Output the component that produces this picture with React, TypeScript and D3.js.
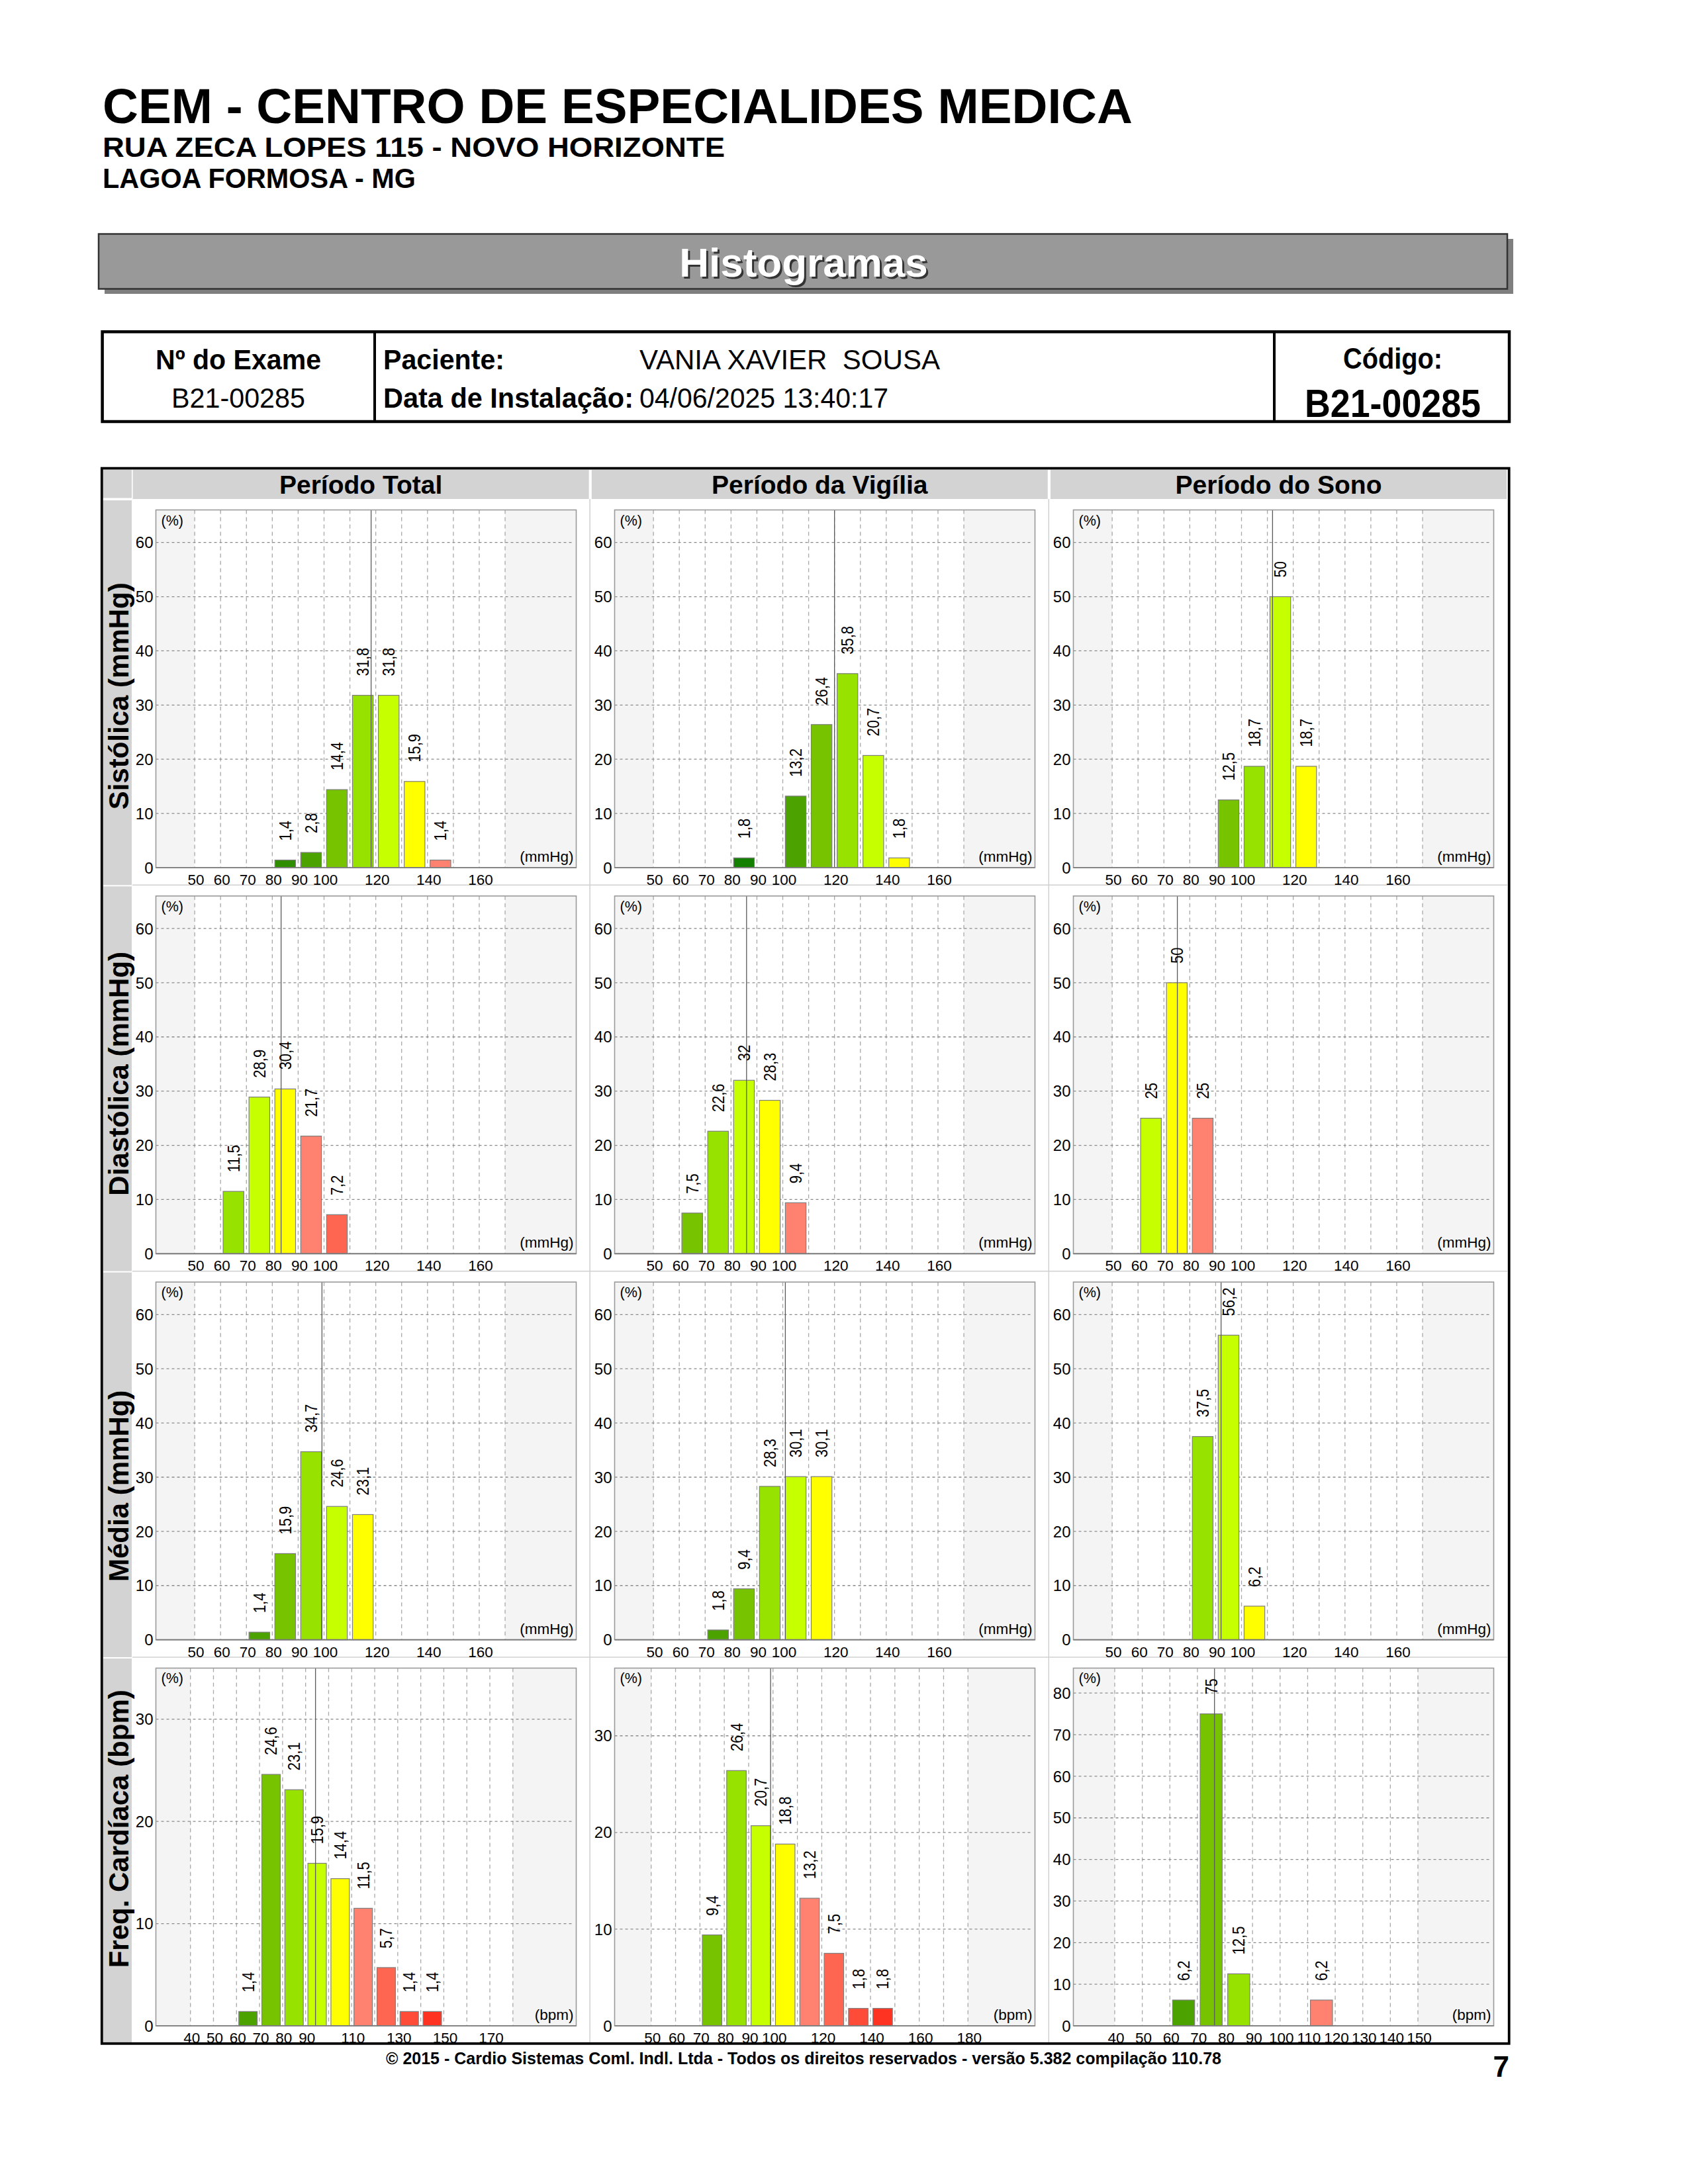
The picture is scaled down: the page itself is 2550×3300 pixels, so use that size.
import React from "react";
import * as d3 from "d3";

const FONT = "'Liberation Sans', Arial, Helvetica, sans-serif";

// ---------- text content ----------
const clinicName = "CEM - CENTRO DE ESPECIALIDES MEDICA";
const clinicStreet = "RUA ZECA LOPES 115 - NOVO HORIZONTE";
const clinicCity = "LAGOA FORMOSA - MG";
const bannerTitle = "Histogramas";
const examLabel = "Nº do Exame";
const examNumber = "B21-00285";
const patientLabel = "Paciente:";
const patientName = "VANIA XAVIER  SOUSA";
const installLabel = "Data de Instalação:";
const installDate = "04/06/2025 13:40:17";
const codeLabel = "Código:";
const codeValue = "B21-00285";
const footerText =
  "© 2015 - Cardio Sistemas Coml. Indl. Ltda - Todos os direitos reservados - versão 5.382 compilação 110.78";
const pageNumber = "7";

const rowLabels = ["Sistólica (mmHg)", "Diastólica (mmHg)", "Média (mmHg)", "Freq. Cardíaca (bpm)"];
const colLabels = ["Período Total", "Período da Vigília", "Período do Sono"];
const rowUnits = ["(mmHg)", "(mmHg)", "(mmHg)", "(bpm)"];

// ---------- data: bin start (lower bound of 10-unit class) and percentage ----------
const sisTotalBins = [80, 90, 100, 110, 120, 130, 140];
const sisTotalValues = [1.4, 2.8, 14.4, 31.8, 31.8, 15.9, 1.4];
const sisVigBins = [80, 100, 110, 120, 130, 140];
const sisVigValues = [1.8, 13.2, 26.4, 35.8, 20.7, 1.8];
const sisSonoBins = [90, 100, 110, 120];
const sisSonoValues = [12.5, 18.7, 50, 18.7];

const diaTotalBins = [60, 70, 80, 90, 100];
const diaTotalValues = [11.5, 28.9, 30.4, 21.7, 7.2];
const diaVigBins = [60, 70, 80, 90, 100];
const diaVigValues = [7.5, 22.6, 32, 28.3, 9.4];
const diaSonoBins = [60, 70, 80];
const diaSonoValues = [25, 50, 25];

const medTotalBins = [70, 80, 90, 100, 110];
const medTotalValues = [1.4, 15.9, 34.7, 24.6, 23.1];
const medVigBins = [70, 80, 90, 100, 110];
const medVigValues = [1.8, 9.4, 28.3, 30.1, 30.1];
const medSonoBins = [80, 90, 100];
const medSonoValues = [37.5, 56.2, 6.2];

const fcTotalBins = [60, 70, 80, 90, 100, 110, 120, 130, 140];
const fcTotalValues = [1.4, 24.6, 23.1, 15.9, 14.4, 11.5, 5.7, 1.4, 1.4];
const fcVigBins = [70, 80, 90, 100, 110, 120, 130, 140];
const fcVigValues = [9.4, 26.4, 20.7, 18.8, 13.2, 7.5, 1.8, 1.8];
const fcSonoBins = [60, 70, 80, 110];
const fcSonoValues = [6.2, 75, 12.5, 6.2];

// ---------- axes ----------
const pressureGrid = [50, 60, 70, 80, 90, 100, 110, 120, 130, 140, 150, 160, 170];
const pressureXLabels = [50, 60, 70, 80, 90, 100, 120, 140, 160];
const pressureYTicks = [0, 10, 20, 30, 40, 50, 60];
const fcTotalGrid = [40, 50, 60, 70, 80, 90, 100, 110, 120, 130, 140, 150, 160, 170, 180];
const fcTotalXLabels = [40, 50, 60, 70, 80, 90, 110, 130, 150, 170];
const fcVigGrid = [50, 60, 70, 80, 90, 100, 110, 120, 130, 140, 150, 160, 170, 180];
const fcVigXLabels = [50, 60, 70, 80, 90, 100, 120, 140, 160, 180];
const fcSonoGrid = [40, 50, 60, 70, 80, 90, 100, 110, 120, 130, 140, 150];
const fcSonoXLabels = [40, 50, 60, 70, 80, 90, 100, 110, 120, 130, 140, 150];
const fcShortYTicks = [0, 10, 20, 30];
const fcSonoYTicks = [0, 10, 20, 30, 40, 50, 60, 70, 80];

const yMaxima = [
  [66, 66, 66],
  [66, 66, 66],
  [66, 66, 66],
  [35, 37, 86],
];
// vertical reference line (mean) per panel
const meanValues = [
  [118.2, 120, 112],
  [83.4, 86, 75.2],
  [99.2, 101, 92.1],
  [94.3, 99, 76.2],
];
// bin drawn in yellow (limit class) per panel
const limitBins = [
  [130, 140, 120],
  [80, 90, 70],
  [110, 110, 100],
  [100, 100, 100],
];

const classColors: Record<number, string> = {
  [-6]: "#138000",
  [-5]: "#2f8d00",
  [-4]: "#4ca300",
  [-3]: "#77c300",
  [-2]: "#98e200",
  [-1]: "#c6ff00",
  0: "#ffff00",
  1: "#ff8270",
  2: "#ff6652",
  3: "#ff4c38",
  4: "#ff3322",
};

type Panel = {
  bins: number[];
  values: number[];
  grid: number[];
  xLabels: number[];
  yTicks: number[];
  yMax: number;
  mean: number;
  limit: number;
  unit: string;
};

const rowBins = [
  [sisTotalBins, sisVigBins, sisSonoBins],
  [diaTotalBins, diaVigBins, diaSonoBins],
  [medTotalBins, medVigBins, medSonoBins],
  [fcTotalBins, fcVigBins, fcSonoBins],
];
const rowValues = [
  [sisTotalValues, sisVigValues, sisSonoValues],
  [diaTotalValues, diaVigValues, diaSonoValues],
  [medTotalValues, medVigValues, medSonoValues],
  [fcTotalValues, fcVigValues, fcSonoValues],
];
const rowGrids = [
  [pressureGrid, pressureGrid, pressureGrid],
  [pressureGrid, pressureGrid, pressureGrid],
  [pressureGrid, pressureGrid, pressureGrid],
  [fcTotalGrid, fcVigGrid, fcSonoGrid],
];
const rowXLabels = [
  [pressureXLabels, pressureXLabels, pressureXLabels],
  [pressureXLabels, pressureXLabels, pressureXLabels],
  [pressureXLabels, pressureXLabels, pressureXLabels],
  [fcTotalXLabels, fcVigXLabels, fcSonoXLabels],
];
const rowYTicks = [
  [pressureYTicks, pressureYTicks, pressureYTicks],
  [pressureYTicks, pressureYTicks, pressureYTicks],
  [pressureYTicks, pressureYTicks, pressureYTicks],
  [fcShortYTicks, fcShortYTicks, fcSonoYTicks],
];

const panels: Panel[][] = rowBins.map((row, r) =>
  row.map((bins, c) => ({
    bins,
    values: rowValues[r][c],
    grid: rowGrids[r][c],
    xLabels: rowXLabels[r][c],
    yTicks: rowYTicks[r][c],
    yMax: yMaxima[r][c],
    mean: meanValues[r][c],
    limit: limitBins[r][c],
    unit: rowUnits[r],
  }))
);

// ---------- layout ----------
const W = 2550;
const H = 3300;
const COL_STEP = 693;
const ROW_STEP = 583.33;
const PLOT_L0 = 235.5;
const PLOT_T0 = 770.5;
const PLOT_W = 635;
const PLOT_H = 540.5;
const GRID_TOP = 754;
const CELL_L0 = 200.6;
const CELL_W = 689;
const BIN = 10;

const fmt = (v: number) => String(v).replace(".", ",");

function Histogram({ p, x0, y0 }: { p: Panel; x0: number; y0: number }) {
  const first = p.grid[0];
  const last = p.grid[p.grid.length - 1];
  const xs = d3
    .scaleLinear()
    .domain([first - 1.5 * BIN, last + 2.75 * BIN])
    .range([x0, x0 + PLOT_W]);
  const ys = d3.scaleLinear().domain([0, p.yMax]).range([y0 + PLOT_H, y0]);
  const bottom = y0 + PLOT_H;
  return (
    <g>
      <rect x={x0} y={y0} width={PLOT_W} height={PLOT_H} fill="#ffffff" />
      <rect x={x0} y={y0} width={xs(first) - x0} height={PLOT_H} fill="#f4f4f4" />
      <rect x={xs(last)} y={y0} width={x0 + PLOT_W - xs(last)} height={PLOT_H} fill="#f4f4f4" />
      {p.grid.map((g) => (
        <line
          key={"vg" + g}
          x1={xs(g)}
          x2={xs(g)}
          y1={y0}
          y2={bottom}
          stroke="#a8a8a8"
          strokeWidth={1.3}
          strokeDasharray="6,5"
        />
      ))}
      {p.yTicks
        .filter((t) => t > 0)
        .map((t) => (
          <line
            key={"hg" + t}
            x1={x0}
            x2={x0 + PLOT_W - 6}
            y1={ys(t)}
            y2={ys(t)}
            stroke="#8a8a8a"
            strokeWidth={1.3}
            strokeDasharray="4,4"
          />
        ))}
      {p.bins.map((b, i) => {
        const v = p.values[i];
        const xL = xs(b + 0.1 * BIN);
        const xR = xs(b + 0.9 * BIN);
        return (
          <rect
            key={"bar" + b}
            x={xL}
            y={ys(v)}
            width={xR - xL}
            height={bottom - ys(v)}
            fill={classColors[(b - p.limit) / BIN]}
            stroke="#7d7d7d"
            strokeWidth={1.2}
          />
        );
      })}
      <line
        x1={xs(p.mean)}
        x2={xs(p.mean)}
        y1={y0}
        y2={bottom}
        stroke="#5a5a5a"
        strokeWidth={1.3}
      />
      {p.bins.map((b, i) => {
        const v = p.values[i];
        const cx = xs(b + 0.5 * BIN);
        return (
          <text
            key={"lbl" + b}
            transform={`translate(${cx + 9},${ys(v) - 29}) rotate(-90) scale(1,1.16)`}
            fontSize={22}
            fontFamily={FONT}
            fill="#000"
          >
            {fmt(v)}
          </text>
        );
      })}
      <rect
        x={x0}
        y={y0}
        width={PLOT_W}
        height={PLOT_H}
        fill="none"
        stroke="#9a9a9a"
        strokeWidth={1.6}
      />
      <line x1={x0} x2={x0 + PLOT_W} y1={bottom} y2={bottom} stroke="#777" strokeWidth={1.6} />
      {p.yTicks.map((t) => (
        <text
          key={"yt" + t}
          x={x0 - 4}
          y={ys(t)}
          dy="0.36em"
          textAnchor="end"
          fontSize={24}
          fontFamily={FONT}
          fill="#000"
        >
          {t}
        </text>
      ))}
      {p.xLabels.map((t) => (
        <text
          key={"xt" + t}
          x={xs(t) + 2}
          y={bottom + 26}
          textAnchor="middle"
          fontSize={22.5}
          fontFamily={FONT}
          fill="#000"
        >
          {t}
        </text>
      ))}
      <text x={x0 + 8} y={y0 + 23} fontSize={21.5} fontFamily={FONT} fill="#000">
        (%)
      </text>
      <text
        x={x0 + PLOT_W - 4}
        y={bottom - 9}
        textAnchor="end"
        fontSize={22.5}
        fontFamily={FONT}
        fill="#000"
      >
        {p.unit}
      </text>
    </g>
  );
}

export default function App() {
  return (
    <svg
      width={W}
      height={H}
      viewBox={`0 0 ${W} ${H}`}
      style={{ position: "absolute", left: 0, top: 0, background: "#fff" }}
      fontFamily={FONT}
    >
      <rect x={0} y={0} width={W} height={H} fill="#ffffff" />
      {/* clinic header */}
      <text x={155} y={186} fontSize={74} fontWeight="bold" textLength={1556} lengthAdjust="spacingAndGlyphs">
        {clinicName}
      </text>
      <text x={155} y={237} fontSize={43} fontWeight="bold" textLength={940} lengthAdjust="spacingAndGlyphs">
        {clinicStreet}
      </text>
      <text x={155} y={284} fontSize={42} fontWeight="bold" textLength={473} lengthAdjust="spacingAndGlyphs">
        {clinicCity}
      </text>

      {/* banner */}
      <rect x={158} y={361} width={2128} height={83} fill="#7f7f7f" />
      <rect x={149} y={353.5} width={2128} height={83} fill="#999999" stroke="#333" strokeWidth={2.5} />
      <text x={1217} y={421} textAnchor="middle" fontSize={62} fontWeight="bold" fill="#333">
        {bannerTitle}
      </text>
      <text x={1214} y={418} textAnchor="middle" fontSize={62} fontWeight="bold" fill="#fff">
        {bannerTitle}
      </text>

      {/* info table */}
      <rect x={154.6} y={501.3} width={2125.4} height={135.7} fill="none" stroke="#000" strokeWidth={4.5} />
      <line x1={566} x2={566} y1={501.3} y2={637} stroke="#000" strokeWidth={4} />
      <line x1={1925} x2={1925} y1={501.3} y2={637} stroke="#000" strokeWidth={4} />
      <text x={360} y={558} textAnchor="middle" fontSize={42} fontWeight="bold" textLength={250} lengthAdjust="spacingAndGlyphs">
        {examLabel}
      </text>
      <text x={360} y={616} textAnchor="middle" fontSize={42} textLength={202} lengthAdjust="spacingAndGlyphs">
        {examNumber}
      </text>
      <text x={579} y={558} fontSize={42} fontWeight="bold" textLength={183} lengthAdjust="spacingAndGlyphs">
        {patientLabel}
      </text>
      <text x={966} y={558} fontSize={42} style={{ whiteSpace: "pre" }} textLength={454} lengthAdjust="spacingAndGlyphs">
        {patientName}
      </text>
      <text x={579} y={616} fontSize={42} fontWeight="bold" textLength={378} lengthAdjust="spacingAndGlyphs">
        {installLabel}
      </text>
      <text x={966} y={616} fontSize={42} textLength={376} lengthAdjust="spacingAndGlyphs">
        {installDate}
      </text>
      <text x={2104} y={557} textAnchor="middle" fontSize={45} fontWeight="bold" textLength={150} lengthAdjust="spacingAndGlyphs">
        {codeLabel}
      </text>
      <text x={2104} y={630} textAnchor="middle" fontSize={60} fontWeight="bold" textLength={266} lengthAdjust="spacingAndGlyphs">
        {codeValue}
      </text>

      {/* histogram grid frame */}
      <rect x={155.5} y={710} width={43.5} height={42.5} fill="#d3d3d3" />
      {colLabels.map((lab, c) => {
        const x = CELL_L0 + c * 693.2;
        return (
          <g key={"col" + c}>
            <rect x={x} y={710} width={CELL_W} height={44} fill="#d3d3d3" />
            <text x={x + CELL_W / 2} y={746} textAnchor="middle" fontSize={39} fontWeight="bold">
              {lab}
            </text>
          </g>
        );
      })}
      {rowLabels.map((lab, r) => {
        const top = GRID_TOP + r * ROW_STEP;
        const bot = top + ROW_STEP;
        return (
          <g key={"row" + r}>
            <rect x={155.5} y={top + 2} width={43.5} height={ROW_STEP - 2} fill="#d3d3d3" />
            <text
              transform={`translate(194,${bot - 114}) rotate(-90)`}
              fontSize={42}
              fontWeight="bold"
            >
              {lab}
            </text>
          </g>
        );
      })}
      {/* cell separators */}
      {[0, 1].map((c) => (
        <line
          key={"vs" + c}
          x1={CELL_L0 + CELL_W + 1.5 + c * 693.2}
          x2={CELL_L0 + CELL_W + 1.5 + c * 693.2}
          y1={GRID_TOP}
          y2={3086}
          stroke="#d0d0d0"
          strokeWidth={1.5}
        />
      ))}
      {[1, 2, 3].map((r) => (
        <line
          key={"hs" + r}
          x1={200}
          x2={2277}
          y1={GRID_TOP + r * ROW_STEP}
          y2={GRID_TOP + r * ROW_STEP}
          stroke="#d0d0d0"
          strokeWidth={1.5}
        />
      ))}
      {panels.map((row, r) =>
        row.map((p, c) => (
          <Histogram
            key={`p${r}-${c}`}
            p={p}
            x0={PLOT_L0 + c * COL_STEP}
            y0={PLOT_T0 + r * ROW_STEP}
          />
        ))
      )}
      <rect x={153.8} y={707.6} width={2125.9} height={2380.2} fill="none" stroke="#000" strokeWidth={3.8} />

      {/* footer */}
      <text x={1214} y={3119} textAnchor="middle" fontSize={25} fontWeight="bold" textLength={1262} lengthAdjust="spacingAndGlyphs">
        {footerText}
      </text>
      <text x={2280} y={3138} textAnchor="end" fontSize={44} fontWeight="bold">
        {pageNumber}
      </text>
    </svg>
  );
}
